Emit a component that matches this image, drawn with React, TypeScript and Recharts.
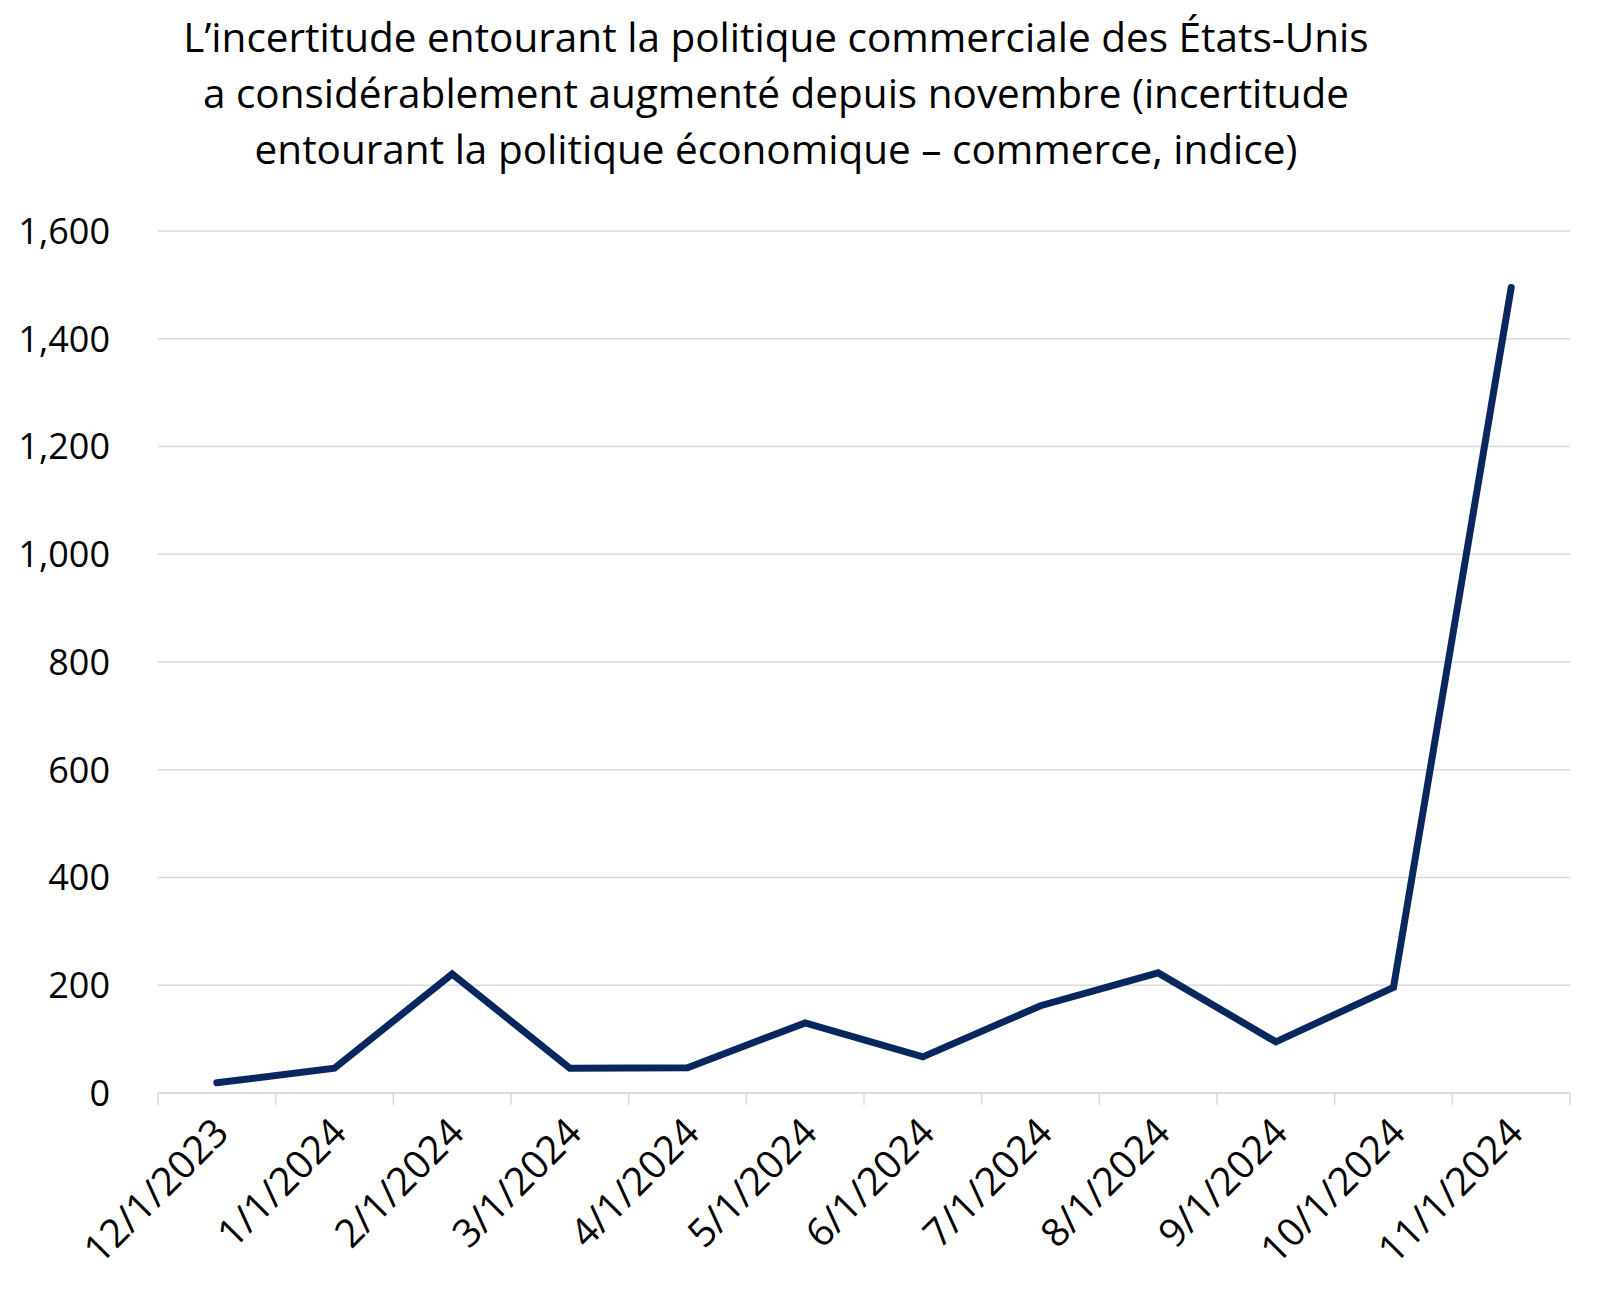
import React from 'react';
import { LineChart, Line, XAxis, YAxis, CartesianGrid } from 'recharts';

const categories = [
  '12/1/2023', '1/1/2024', '2/1/2024', '3/1/2024', '4/1/2024', '5/1/2024',
  '6/1/2024', '7/1/2024', '8/1/2024', '9/1/2024', '10/1/2024', '11/1/2024',
];
const tradeUncertainty = [19, 46, 221, 46, 47, 130, 67, 162, 223, 95, 196, 1495];
const yTicks = [0, 200, 400, 600, 800, 1000, 1200, 1400, 1600];
const titleLines = [
  'L’incertitude entourant la politique commerciale des États-Unis',
  'a considérablement augmenté depuis novembre (incertitude',
  'entourant la politique économique – commerce, indice)',
];

const data = categories.map((date, i) => ({ date, value: tradeUncertainty[i] }));

const FONT = '"Open Sans", "Noto Sans", sans-serif';
const W = 1600;
const H = 1298;
const PLOT_LEFT = 158;
const PLOT_RIGHT = 1570;
const STEP = (PLOT_RIGHT - PLOT_LEFT) / categories.length;

const fmt = (v: number) => v.toLocaleString('en-US');

const YTick = (props: any) => {
  const { x, y, payload } = props;
  return (
    <text x={x - 48} y={y} dy="0.36em" textAnchor="end" fontSize={36} fill="#000" fontFamily={FONT}>
      {fmt(payload.value)}
    </text>
  );
};

const XTick = (props: any) => {
  const { x, y, payload, index } = props;
  const half = STEP / 2;
  const last = index === categories.length - 1;
  const px = x + 14;
  const py = y + 42;
  return (
    <g>
      <line x1={x - half} x2={x - half} y1={y} y2={y + 12} stroke="#d9d9d9" strokeWidth={1.5} />
      {last && <line x1={x + half} x2={x + half} y1={y} y2={y + 12} stroke="#d9d9d9" strokeWidth={1.5} />}
      <text x={px} y={py} textAnchor="end" fontSize={39} fill="#000" fontFamily={FONT}
        transform={`rotate(-45 ${px} ${py})`}>
        {payload.value}
      </text>
    </g>
  );
};

export default function App() {
  return (
    <div style={{ position: 'absolute', left: 0, top: 0, width: W, height: H, background: '#fff' }}>
      <div style={{
        position: 'absolute', left: 0, top: 9, width: 1552, textAlign: 'center',
        fontFamily: FONT, fontSize: 40.5, lineHeight: '56px', color: '#000',
      }}>
        {titleLines.map((t, i) => <div key={i}>{t}</div>)}
      </div>
      <LineChart
        width={W}
        height={H}
        data={data}
        margin={{ top: 231, right: W - PLOT_RIGHT, left: 0, bottom: 55 }}
      >
        <CartesianGrid vertical={false} stroke="#d9d9d9" strokeWidth={1.5} />
        <XAxis
          dataKey="date"
          padding={{ left: STEP / 2, right: STEP / 2 }}
          interval={0}
          tickLine={false}
          tickSize={0}
          tickMargin={0}
          axisLine={{ stroke: '#d9d9d9', strokeWidth: 1.5 }}
          tick={<XTick />}
          height={150}
        />
        <YAxis
          domain={[0, 1600]}
          ticks={yTicks}
          width={PLOT_LEFT}
          axisLine={false}
          tickLine={false}
          tickSize={0}
          tickMargin={0}
          tick={<YTick />}
        />
        <Line
          type="linear"
          dataKey="value"
          stroke="#08275e"
          strokeWidth={7}
          dot={false}
          strokeLinecap="round"
          strokeLinejoin="miter"
          isAnimationActive={false}
        />
      </LineChart>
    </div>
  );
}
